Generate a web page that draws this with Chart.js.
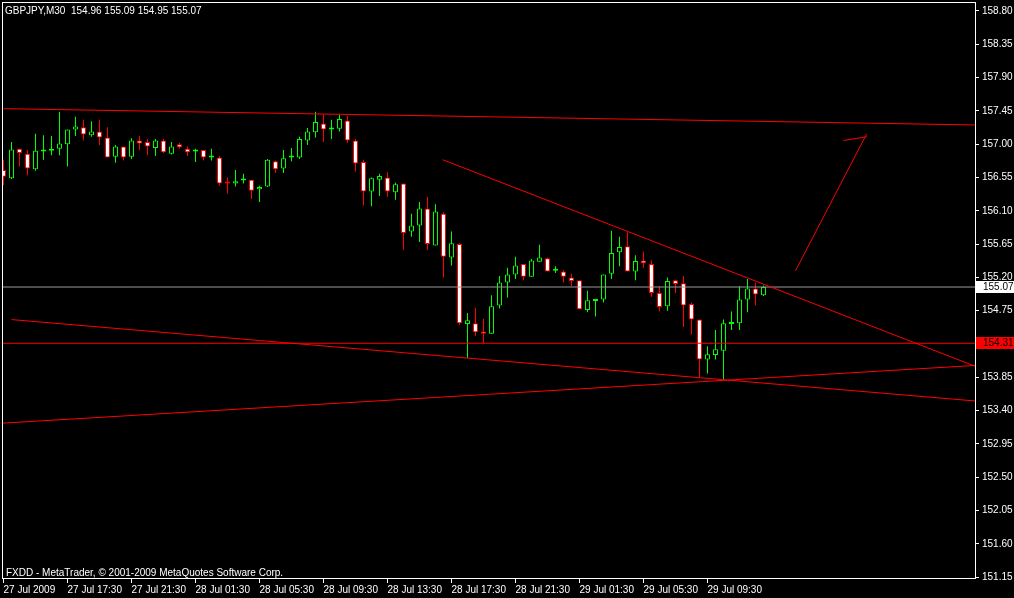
<!DOCTYPE html>
<html lang="en">
<head>
    <meta charset="UTF-8">
    <title>GBPJPY,M30</title>
    <script src="https://cdn.jsdelivr.net/npm/chart.js"></script>
    <style>
        body {
            margin: 0;
            background: #000;
            overflow: hidden;
        }
        #wrap {
            position: relative;
            width: 1014px;
            height: 598px;
        }
        .caption {
            position: absolute;
            color: #fff;
            font: 10px "Liberation Sans", Arial, sans-serif;
            white-space: pre;
        }
        #symbol { left: 5px; top: 5px; }
        #copyright { left: 6px; top: 567px; }
    </style>
</head>
<body>
    <div id="wrap">
        <canvas id="chart" width="1014" height="598"></canvas>
        <div class="caption" id="symbol">GBPJPY,M30  154.96 155.09 154.95 155.07</div>
        <div class="caption" id="copyright">FXDD - MetaTrader, © 2001-2009 MetaQuotes Software Corp.</div>
    </div>

    <script>
        // bottom axis labels, one every 8 bars (4 hours of M30)
        const timeLabels = ['27 Jul 2009', '27 Jul 17:30', '27 Jul 21:30', '28 Jul 01:30',
            '28 Jul 05:30', '28 Jul 09:30', '28 Jul 13:30', '28 Jul 17:30',
            '28 Jul 21:30', '29 Jul 01:30', '29 Jul 05:30', '29 Jul 09:30'];

        const priceTicks = [151.15, 151.60, 152.05, 152.50, 152.95, 153.40, 153.85,
            154.75, 155.20, 155.65, 156.10, 156.55, 157.00, 157.45, 157.90, 158.35, 158.80];

        const opens = [156.65, 156.54, 156.94, 156.87, 156.66, 156.90, 156.91, 156.94, 157.00, 157.20,
            157.23, 157.12, 157.17, 157.09, 156.83, 156.97, 156.83, 157.05, 157.03, 156.95,
            157.05, 156.87, 157.00, 156.94, 156.90, 156.92, 156.82, 156.82, 156.48, 156.47,
            156.51, 156.52, 156.39, 156.43, 156.77, 156.67, 156.82, 156.82, 157.05, 157.16,
            157.28, 157.20, 157.21, 157.32, 157.05, 156.76, 156.36, 156.52, 156.55, 156.35,
            156.47, 155.82, 155.90, 156.13, 155.63, 156.06, 155.47, 155.65, 154.57, 154.58,
            154.47, 154.44, 154.82, 155.13, 155.24, 155.38, 155.21, 155.41, 155.46, 155.29,
            155.28, 155.20, 155.16, 154.76, 154.88, 154.90, 155.25, 155.54, 155.62, 155.28,
            155.43, 155.38, 154.99, 154.81, 155.16, 155.12, 154.84, 154.63, 154.09, 154.15,
            154.21, 154.57, 154.58, 154.90, 155.05, 154.96];

        const highs = [156.79, 157.03, 156.94, 156.92, 157.14, 157.12, 157.11, 157.44, 157.20, 157.37,
            157.33, 157.31, 157.33, 157.23, 156.99, 156.97, 157.08, 157.11, 157.07, 157.07,
            157.07, 157.03, 157.02, 156.97, 156.94, 156.92, 156.94, 156.84, 156.55, 156.65,
            156.60, 156.52, 156.44, 156.80, 156.78, 156.92, 156.95, 157.10, 157.22, 157.44,
            157.40, 157.33, 157.40, 157.38, 157.07, 156.79, 156.55, 156.60, 156.62, 156.48,
            156.47, 156.06, 156.22, 156.29, 156.19, 156.08, 155.82, 155.66, 154.72, 154.79,
            154.64, 154.96, 155.22, 155.33, 155.48, 155.38, 155.45, 155.64, 155.47, 155.35,
            155.30, 155.25, 155.16, 155.02, 154.90, 155.24, 155.83, 155.75, 155.81, 155.50,
            155.55, 155.43, 155.08, 155.20, 155.17, 155.22, 154.86, 154.63, 154.27, 154.49,
            154.63, 154.74, 155.08, 155.18, 155.13, 155.09];

        const lows = [156.45, 156.53, 156.70, 156.58, 156.64, 156.79, 156.85, 156.85, 156.70, 157.11,
            157.05, 157.10, 156.99, 156.82, 156.75, 156.78, 156.80, 156.92, 156.85, 156.84,
            156.88, 156.86, 156.94, 156.84, 156.76, 156.78, 156.78, 156.44, 156.33, 156.43,
            156.47, 156.26, 156.22, 156.42, 156.61, 156.61, 156.77, 156.80, 156.99, 157.09,
            157.03, 157.07, 157.17, 157.02, 156.63, 156.17, 156.16, 156.30, 156.29, 156.25,
            155.57, 155.75, 155.68, 155.57, 155.63, 155.20, 155.36, 154.56, 154.11, 154.41,
            154.31, 154.44, 154.78, 154.93, 155.18, 155.16, 155.21, 155.41, 155.28, 155.26,
            155.13, 155.08, 154.77, 154.73, 154.67, 154.86, 155.18, 155.35, 155.28, 155.16,
            155.33, 154.94, 154.74, 154.75, 154.99, 154.53, 154.43, 153.85, 153.90, 154.09,
            153.82, 154.49, 154.49, 154.73, 154.82, 154.95];

        const closes = [156.56, 156.93, 156.88, 156.67, 156.91, 156.91, 156.93, 157.01, 157.20, 157.24,
            157.13, 157.17, 157.09, 156.82, 156.97, 156.82, 157.05, 157.01, 156.97, 157.05,
            156.89, 156.97, 156.96, 156.89, 156.91, 156.82, 156.84, 156.47, 156.47, 156.50,
            156.52, 156.37, 156.42, 156.79, 156.66, 156.81, 156.83, 157.07, 157.17, 157.30,
            157.20, 157.21, 157.34, 157.05, 156.74, 156.36, 156.54, 156.57, 156.36, 156.46,
            155.80, 155.90, 156.13, 155.65, 156.09, 155.48, 155.66, 154.58, 154.62, 154.46,
            154.44, 154.81, 155.13, 155.24, 155.36, 155.21, 155.43, 155.47, 155.28, 155.30,
            155.21, 155.15, 154.77, 154.89, 154.90, 155.24, 155.53, 155.61, 155.28, 155.42,
            155.39, 154.99, 154.80, 155.15, 155.11, 154.82, 154.63, 154.09, 154.16, 154.23,
            154.58, 154.59, 154.90, 155.05, 154.97, 155.07];

        // hand drawn objects: [bar index, price] end points
        const topLine = [[0, 157.48], [121.44, 157.26]];
        const fallLine = [[54.9, 156.79], [121.44, 154.00]];
        const lowerFall = [[1, 154.63], [121.44, 153.53]];
        const lowerRise = [[-0.19, 153.23], [121.44, 154.01]];
        const arrowMain = [[99.0, 155.29], [107.9, 157.14]];
        const arrowHead = [[105.0, 157.05], [107.9, 157.10]];
        const levelPrice = 154.31;
        const bidPrice = 155.07;

        const UP = '#00ff00';
        const DOWN = '#ff0000';

        const idx = opens.map((_, i) => i);
        const isUp = idx.map(i => closes[i] >= opens[i]);

        function pts(arr) {
            return arr.map(p => ({ x: p[0], y: p[1] }));
        }
        function lineSet(arr, color) {
            return {
                type: 'line', data: pts(arr), borderColor: color, borderWidth: 1,
                pointRadius: 0, fill: false, order: 0, tension: 0
            };
        }

        const xMin = -0.1875, xMax = 121.4375;

        function noPad(s) {
            s.paddingTop = 0; s.paddingBottom = 0;
            s.paddingLeft = 0; s.paddingRight = 0;
        }

        const frame = {
            id: 'frame',
            afterDraw(chart) {
                const ctx = chart.ctx, a = chart.chartArea;
                ctx.save();
                ctx.strokeStyle = '#fff';
                ctx.lineWidth = 1;
                ctx.strokeRect(a.left + 0.5, a.top + 0.5, a.right - a.left, a.bottom - a.top);
                // price boxes on the right scale
                const ys = chart.scales.y;
                [[bidPrice, '#fff', '#000'], [levelPrice, '#ff0000', '#000']].forEach(([p, bg, fg]) => {
                    const y = Math.round(ys.getPixelForValue(p));
                    ctx.fillStyle = bg;
                    ctx.fillRect(a.right + 1, y - 6, 38, 12);
                    ctx.fillStyle = fg;
                    ctx.font = '10px "Liberation Sans", Arial';
                    ctx.textBaseline = 'middle';
                    ctx.fillText(p.toFixed(2), a.right + 8, y + 0.5);
                });
                ctx.restore();
            }
        };

        new Chart(document.getElementById('chart'), {
            type: 'bar',
            data: {
                datasets: [
                    lineSet(topLine, DOWN),
                    lineSet(fallLine, DOWN),
                    lineSet(lowerFall, DOWN),
                    lineSet(lowerRise, DOWN),
                    lineSet(arrowMain, DOWN),
                    lineSet(arrowHead, DOWN),
                    lineSet([[xMin, levelPrice], [xMax, levelPrice]], DOWN),
                    lineSet([[xMin, bidPrice], [xMax, bidPrice]], '#9a9a9a'),
                    {
                        label: 'body',
                        data: idx.map(i => ({ x: i, y: [opens[i], closes[i]] })),
                        backgroundColor: idx.map(i => isUp[i] ? '#000' : '#fff'),
                        borderColor: idx.map(i => isUp[i] ? UP : DOWN),
                        borderWidth: 1,
                        borderSkipped: false,
                        barThickness: 5,
                        minBarLength: 2,
                        inflateAmount: 0,
                        grouped: false,
                        order: 1
                    },
                    {
                        label: 'wick',
                        data: idx.map(i => ({ x: i, y: [lows[i], highs[i]] })),
                        backgroundColor: idx.map(i => isUp[i] ? UP : DOWN),
                        borderWidth: 0,
                        barThickness: 1,
                        inflateAmount: 0,
                        grouped: false,
                        order: 2
                    }
                ]
            },
            options: {
                responsive: false,
                animation: false,
                devicePixelRatio: 1,
                layout: { padding: { top: 2, left: 2, right: 0, bottom: 0 } },
                plugins: { legend: { display: false }, tooltip: { enabled: false } },
                scales: {
                    x: {
                        type: 'linear',
                        min: xMin,
                        max: xMax,
                        offset: false,
                        grid: { display: true, drawOnChartArea: false, color: '#fff', tickLength: 5, offset: false },
                        border: { display: true, color: '#fff' },
                        afterBuildTicks: s => { s.ticks = timeLabels.map((_, k) => ({ value: k * 8 })); },
                        afterFit: s => { s.height = 20; noPad(s); },
                        ticks: {
                            color: '#fff',
                            font: { family: 'Liberation Sans', size: 10 },
                            align: 'start',
                            padding: 1,
                            maxRotation: 0,
                            autoSkip: false,
                            callback: v => timeLabels[v / 8]
                        }
                    },
                    y: {
                        position: 'right',
                        min: 151.13784,
                        max: 158.92162,
                        grid: { display: true, drawOnChartArea: false, color: '#fff', tickLength: 4 },
                        border: { display: true, color: '#fff' },
                        afterBuildTicks: s => { s.ticks = priceTicks.map(v => ({ value: v })); },
                        afterFit: s => { s.width = 39; noPad(s); },
                        ticks: {
                            color: '#fff',
                            font: { family: 'Liberation Sans', size: 10 },
                            padding: 3,
                            callback: v => v.toFixed(2)
                        }
                    }
                }
            },
            plugins: [frame]
        });
    </script>
</body>
</html>
